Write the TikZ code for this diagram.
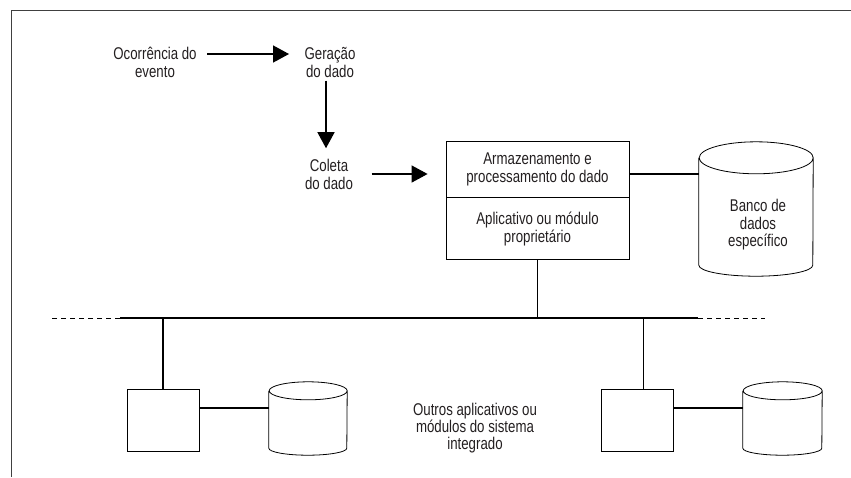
\documentclass[tikz,border=0pt]{standalone}
\usepackage{fontspec}
\setmainfont{Liberation Sans}[FakeStretch=0.78]
\usetikzlibrary{arrows.meta,positioning}
\definecolor{ink}{HTML}{231F20}

\begin{document}
\begin{tikzpicture}[x=1pt, y=-1pt,
    txt/.style={align=center, text=ink, font=\fontsize{17}{18}\selectfont},
    arr/.style={line width=1.3pt, -{Triangle[length=16pt, width=17pt]}},
    blk/.style={draw, line width=0.8pt, inner sep=0pt},
    cyl/.style={line width=0.8pt}]
    \useasboundingbox (0, 0) rectangle (851, 477);
    % frame
    \draw[line width=0.9pt, black!75] (851, 10) -- (11, 10) -- (11, 477);
    % flow of the data
    \node[txt] (ev) at (155, 62) {Ocorrência do\\evento};
    \node[txt] (gen) at (330, 62) {Geração\\do dado};
    \node[txt] (col) at (329, 174) {Coleta\\do dado};
    \node[blk, txt, minimum width=183pt, minimum height=56pt] (store) at (537.5, 169) {Armazenamento e\\processamento do dado};
    \node[blk, txt, minimum width=183pt, minimum height=62pt, below=0pt of store] (app) {Aplicativo ou módulo\\proprietário};
    \draw[arr] ([yshift=8pt, xshift=7pt]ev.east) -- ([yshift=8pt, xshift=-12pt]gen.west);
    \draw[arr, shorten >=7pt] ([xshift=-4pt]gen.south) -- ([xshift=-3pt]col.north);
    \draw[arr] ([xshift=15pt]col.east) -- ([xshift=-18pt]col.east -| store.west);
    % specific database
    \node[minimum width=114pt, minimum height=134pt, inner sep=0pt] (db1) at (756, 209) {};
    \draw[cyl] ([yshift=-16pt]db1.north west) -- ([yshift=11pt]db1.south west)
        arc[start angle=180, end angle=360, x radius=57pt, y radius=11pt]
        -- ([yshift=-16pt]db1.north east)
        arc[start angle=0, end angle=360, x radius=57pt, y radius=16pt];
    \node[txt, font=\fontsize{17}{17.5}\selectfont] (db1txt) at (758, 225) {Banco de\\dados\\específico};
    \draw[line width=1.3pt] ([yshift=-5pt]store.east) -- ([yshift=-5pt]store.east -| db1.west);
    % bus
    \coordinate (busL) at (120, 318);
    \coordinate (busR) at (698, 318);
    \draw[line width=2.2pt] (busL) -- (busR);
    \draw[line width=1pt, dash pattern=on 5pt off 4pt] (busL) -- ++(-68, 0);
    \draw[line width=1pt, dash pattern=on 5pt off 4pt] (busR) -- ++(67, 0);
    \draw[line width=0.8pt] (app.south) -- (app.south |- busL);
    % other modules
    \node[blk, minimum width=72pt, minimum height=62pt] (app2) at (163, 420) {};
    \node[minimum width=78pt, minimum height=73pt, inner sep=0pt] (db2) at (308, 418.5) {};
    \node[blk, minimum width=72pt, minimum height=62pt] (app3) at (637, 420) {};
    \node[minimum width=79pt, minimum height=73pt, inner sep=0pt] (db3) at (782.5, 418.5) {};
    \draw[cyl] ([yshift=-9pt]db2.north west) -- ([yshift=7pt]db2.south west)
        arc[start angle=180, end angle=360, x radius=39pt, y radius=7pt]
        -- ([yshift=-9pt]db2.north east)
        arc[start angle=0, end angle=360, x radius=39pt, y radius=9pt];
    \draw[cyl] ([yshift=-9pt]db3.north west) -- ([yshift=7pt]db3.south west)
        arc[start angle=180, end angle=360, x radius=39.5pt, y radius=7pt]
        -- ([yshift=-9pt]db3.north east)
        arc[start angle=0, end angle=360, x radius=39.5pt, y radius=9pt];
    \draw[line width=2pt] (app2.north |- busL) -- (app2.north);
    \draw[line width=0.8pt] ([xshift=6pt]app3.north |- busL) -- ([xshift=6pt]app3.north);
    \draw[line width=1.6pt] ([yshift=12pt]app2.east) -- ([yshift=12pt]app2.east -| db2.west);
    \draw[line width=1.6pt] ([yshift=12pt]app3.east) -- ([yshift=12pt]app3.east -| db3.west);
    \node[txt, font=\fontsize{17}{17}\selectfont] (other) at (475, 428) {Outros aplicativos ou\\módulos do sistema\\integrado};
\end{tikzpicture}
\end{document}
